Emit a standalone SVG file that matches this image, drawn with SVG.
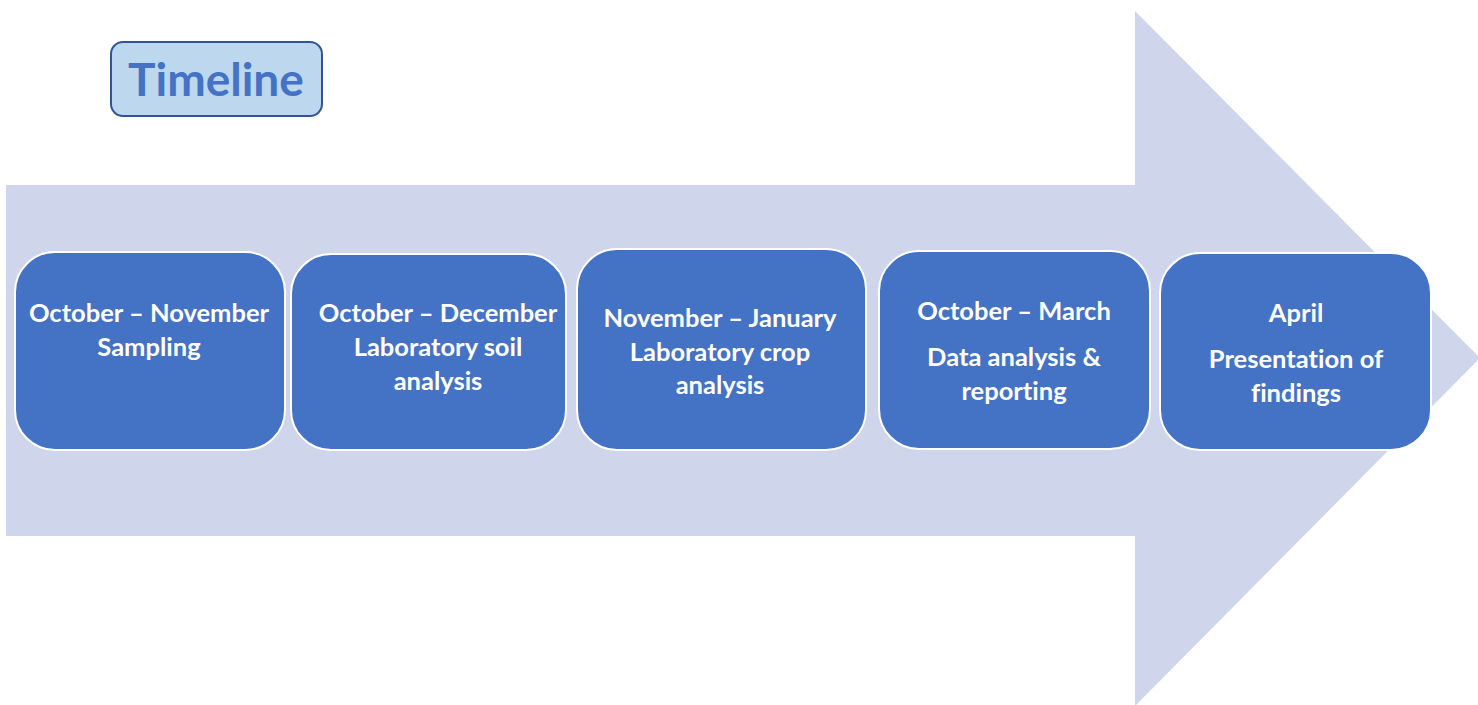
<svg xmlns="http://www.w3.org/2000/svg" width="1478" height="705" viewBox="0 0 1478 705">
  <style>
    text { font-variant-ligatures: none; font-feature-settings: "liga" 0; }
    .step rect { fill: #4472C4; stroke: #FFFFFF; stroke-width: 2; }
    .step text { fill: #FFFFFF; font-family: Lato, "Open Sans", "Liberation Sans", sans-serif; font-weight: bold; font-size: 25.5px; text-anchor: middle; }
    .title text { fill: #4472C4; font-family: Lato, "Open Sans", "Liberation Sans", sans-serif; font-weight: bold; font-size: 46px; text-anchor: middle; }
  </style>
  <rect width="1478" height="705" fill="#FFFFFF"/>

  <!-- background timeline arrow -->
  <g id="connectors">
    <polygon points="6,185 1135,185 1135,11 1480,358 1135,706 1135,536 6,536" fill="#CFD5EA"/>
  </g>

  <g id="title" class="title">
    <rect x="111" y="42" width="211" height="74" rx="12" fill="#BDD7EE" stroke="#2F5597" stroke-width="2"/>
    <text x="216" y="96">Timeline</text>
  </g>

  <g id="step1" class="step">
    <rect x="15" y="252" width="270" height="198" rx="40"/>
    <text x="149" y="322">October – November</text>
    <text x="149" y="356">Sampling</text>
  </g>

  <g id="step2" class="step">
    <rect x="291" y="254" width="275" height="196" rx="40"/>
    <text x="438" y="322">October – December</text>
    <text x="438" y="356">Laboratory soil</text>
    <text x="438" y="390">analysis</text>
  </g>

  <g id="step3" class="step">
    <rect x="577" y="249" width="289" height="201" rx="40"/>
    <text x="720" y="327">November – January</text>
    <text x="720" y="361">Laboratory crop</text>
    <text x="720" y="394">analysis</text>
  </g>

  <g id="step4" class="step">
    <rect x="879" y="251" width="271" height="198" rx="40"/>
    <text x="1014" y="320">October – March</text>
    <text x="1014" y="366">Data analysis &amp;</text>
    <text x="1014" y="400">reporting</text>
  </g>

  <g id="step5" class="step">
    <rect x="1160" y="253" width="271" height="197" rx="40"/>
    <text x="1296" y="322">April</text>
    <text x="1296" y="368">Presentation of</text>
    <text x="1296" y="402">findings</text>
  </g>
</svg>
